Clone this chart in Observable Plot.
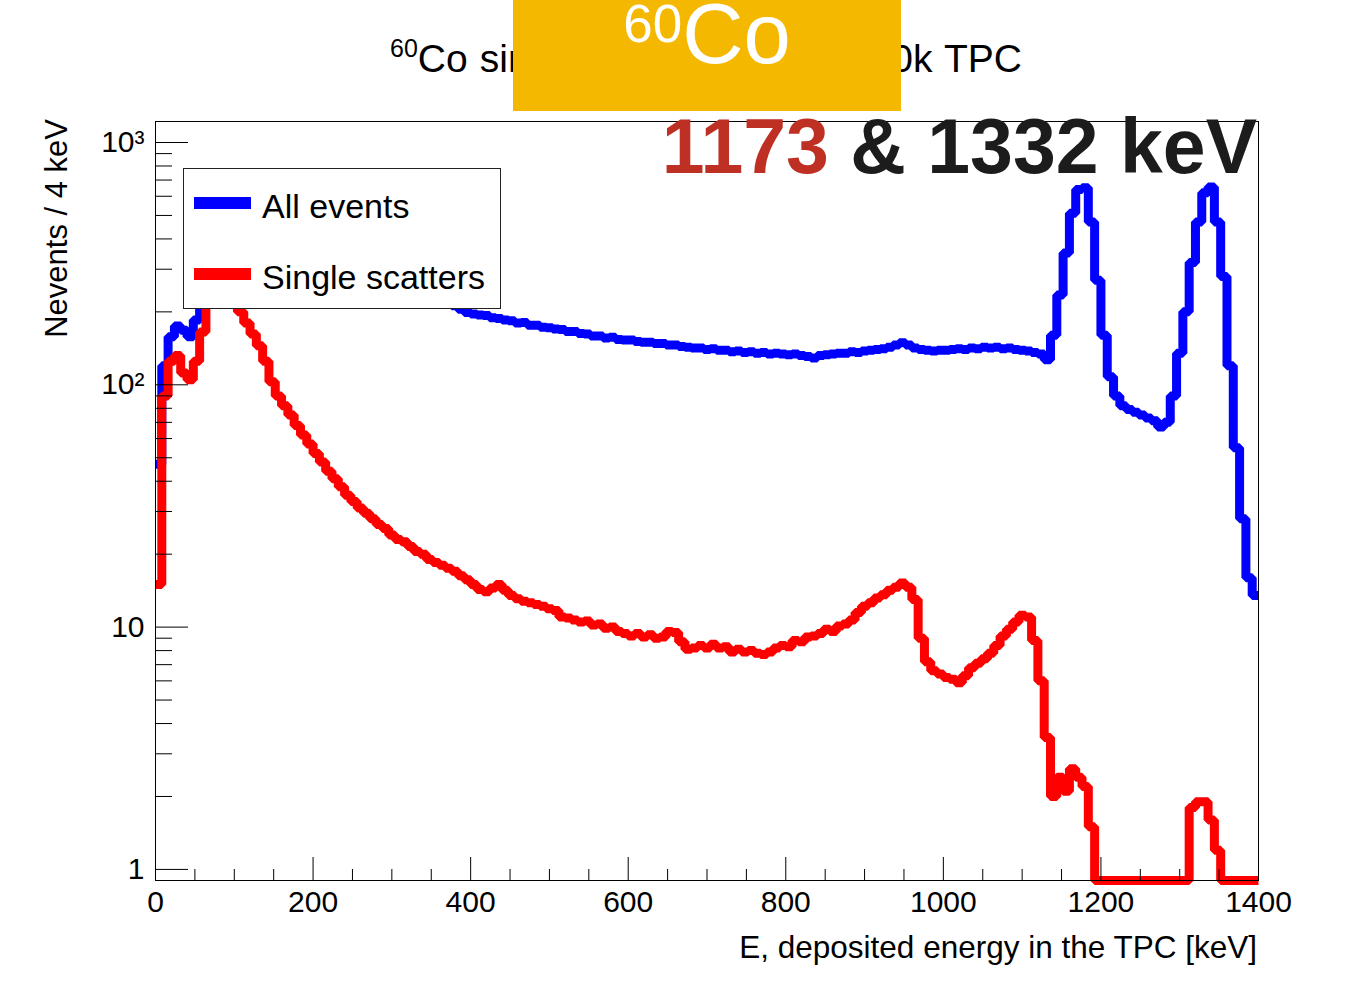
<!DOCTYPE html>
<html><head><meta charset="utf-8">
<script src="https://cdn.jsdelivr.net/npm/d3@7"></script>
<script src="https://cdn.jsdelivr.net/npm/@observablehq/plot@0.6"></script>
<style>
html,body{margin:0;padding:0;background:#fff;}
#wrap{position:relative;width:1347px;height:985px;overflow:hidden;font-family:"Liberation Sans",Arial,Helvetica,sans-serif;color:#000;}
#chart{position:absolute;left:0;top:0;}
.abs{position:absolute;white-space:nowrap;line-height:1;}
</style></head><body>
<div id="wrap">
  <div id="chart"></div>
  <div id="title" class="abs" style="left:390px;top:29px;width:632px;font-size:39px;line-height:39px;text-align:justify;text-align-last:justify;"><span style="font-size:25px;vertical-align:15px;">60</span>Co simulation in nEXO 5000k TPC</div>
  <div id="badge" class="abs" style="left:513px;top:0;width:388px;height:111px;background:#f5b800;"></div>
  <div id="badgeText" class="abs" style="left:513px;top:-19px;width:388px;text-align:center;color:#fff;font-size:85px;line-height:85px;"><span style="font-size:53px;vertical-align:21px;">60</span>Co</div>
  <div id="lines" class="abs" style="right:90px;top:108px;font-size:77px;line-height:77px;font-weight:bold;color:#1c1c1c;"><span style="color:#be3023;">1173</span> &amp; 1332 keV</div>
  <div id="legend" style="position:absolute;left:183px;top:168px;width:318px;height:141px;border:1px solid #222;box-sizing:border-box;background:#fff;">
    <div style="position:absolute;left:10px;top:28px;width:57px;height:12px;background:#0000ff;"></div>
    <div style="position:absolute;left:10px;top:99px;width:57px;height:12px;background:#ff0000;"></div>
    <div class="abs" style="left:78px;top:20px;font-size:34px;line-height:34px;">All events</div>
    <div class="abs" style="left:78px;top:91px;font-size:34px;line-height:34px;">Single scatters</div>
  </div>
  <div id="ytitle" class="abs" style="left:0;top:0;font-size:31px;line-height:31px;transform-origin:0 0;transform:translate(41px,119px) rotate(-90deg) translate(-100%,0);">Nevents / 4 keV</div>
  <div id="xtitle" class="abs" style="right:90px;top:932px;font-size:31.5px;line-height:31.5px;">E, deposited energy in the TPC [keV]</div>
</div>
<script>
// ---- data (8 keV bins, low edges) ----
const binWidth = 8;
const binLow = d3.range(0, 1400, binWidth);

const allEvents = [
  47,120,158,175,168,158,185,215,250,280,
  300,310,315,312,305,298,290,284,278,272,
  267,262,257,253,249,245,242,239,237,235,
  233,231,229,228,227,226,225,224,223,223,
  222,222,221,220,219,218,216,212,205,199,
  196,194,193,189,188,185,184,180,181,176,
  176,173,172,170,169,166,166,163,162,159,
  159,156,157,154,153,153,151,150,150,148,
  148,146,146,144,143,142,142,140,141,139,
  139,137,138,136,137,135,136,134,135,134,
  133,134,132,131,129,132,133,134,135,135,
  137,136,138,139,140,141,143,146,149,146,
  142,140,139,138,139,139,140,141,140,142,
  141,143,142,143,141,142,140,139,138,136,
  134,127,160,235,350,510,640,650,470,270,
  160,108,90,82,79,77,75,73,71,67,
  70,90,135,200,320,470,620,655,470,280,
  120,55,28,16,13.5
];

const singleScatters = [
  15,90,125,132,112,105,125,165,215,255,
  275,270,245,200,180,162,145,125,103,90,
  82,75,68,62,57,52,48,44,41,38,
  35,33,31,29.5,28,26.5,25.5,24,23,22.5,
  21.5,20.5,20,19,18.5,18,17.5,17,16.3,15.7,
  15,14.3,14,14.5,15,14.2,13.5,13.1,12.8,12.6,
  12.4,12.2,11.9,11.7,11.0,10.9,10.7,10.5,10.6,10.2,
  10.3,9.9,10.0,9.6,9.4,9.2,9.4,9.1,9.3,9.0,
  9.1,9.6,9.5,8.7,8.1,8.2,8.4,8.2,8.5,8.2,
  8.3,7.9,8.1,7.9,8.0,7.8,7.7,7.9,8.2,8.4,
  8.3,8.8,8.7,9.1,9.2,9.4,9.8,9.6,10.1,10.3,
  10.7,11.5,12.2,12.6,13.2,13.6,14.2,14.6,15.2,14.6,
  13.0,9.0,7.2,6.6,6.4,6.2,6.1,5.9,6.3,6.8,
  7.1,7.4,7.8,8.4,9.2,9.8,10.5,11.2,11.0,8.8,
  6.0,3.5,2.0,2.4,2.1,2.6,2.4,2.2,1.5,0,
  0,0,0,0,0,0,0,0,0,0,
  0,0,0,0,1.8,1.9,1.9,1.6,1.2,0,
  0,0,0,0,0
];

const xMajorTicks = [0,200,400,600,800,1000,1200,1400];
const xMinorTicks = [50,100,150,250,300,350,450,500,550,650,700,750,850,900,950,1050,1100,1150,1250,1300,1350];
const yMajorTicks = [1,10,100,1000];
const yTickLabels = ["1","10","10\u00b2","10\u00b3"];
const yMinorTicks = [2,3,4,5,6,7,8,9,20,30,40,50,60,70,80,90,200,300,400,500,600,700,800,900];

const yMin = 0.9, yMax = 1221;
const xMax = 1400;

function histRows(vals) {
  const rows = binLow.map((x, i) => ({x, v: Math.max(vals[i], yMin)}));
  rows.push({x: xMax, v: Math.max(vals[vals.length - 1], yMin)});
  return rows;
}

const W = 1347, H = 985, mL = 155, mR = 89, mT = 121, mB = 105;
const frameW = W - mL - mR, frameH = H - mT - mB;

const lineOpts = {x: "x", y: "v", curve: "step-after", strokeWidth: 9, strokeLinejoin: "miter", strokeLinecap: "butt"};

const chart = Plot.plot({
  width: W, height: H,
  marginLeft: mL, marginRight: mR, marginTop: mT, marginBottom: mB,
  style: {fontFamily: "Liberation Sans, Arial, sans-serif", color: "#000", background: "transparent"},
  x: {domain: [0, xMax]},
  y: {type: "log", domain: [yMin, yMax]},
  marks: [
    Plot.line(histRows(allEvents), {...lineOpts, stroke: "#0000ff"}),
    Plot.line(histRows(singleScatters), {...lineOpts, stroke: "#ff0000"}),
    Plot.frame({stroke: "#000", strokeWidth: 1}),
    Plot.tickX(xMajorTicks, {x: d => d, insetTop: frameH - 23, stroke: "#000", strokeWidth: 1}),
    Plot.tickX(xMinorTicks, {x: d => d, insetTop: frameH - 11, stroke: "#000", strokeWidth: 1}),
    Plot.tickY(yMajorTicks, {y: d => d, insetRight: frameW - 33, stroke: "#000", strokeWidth: 1}),
    Plot.tickY(yMinorTicks, {y: d => d, insetRight: frameW - 17, stroke: "#000", strokeWidth: 1}),
    Plot.axisX(xMajorTicks, {tickSize: 0, tickPadding: 10, fontSize: 30, tickFormat: d => String(d), label: null}),
    Plot.axisY(yMajorTicks, {tickSize: 0, tickPadding: 11, fontSize: 30, tickFormat: d => yTickLabels[yMajorTicks.indexOf(d)], label: null})
  ]
});
document.getElementById("chart").appendChild(chart);
</script>
</body></html>
